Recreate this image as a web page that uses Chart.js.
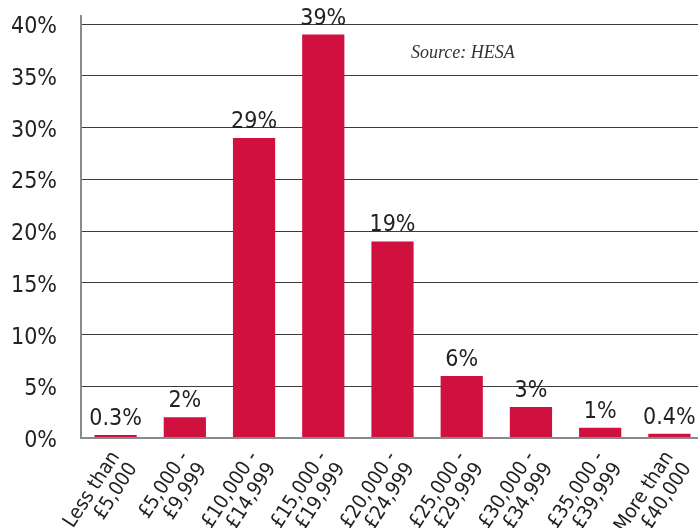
<!DOCTYPE html>
<html>
<head>
<meta charset="utf-8">
<script src="https://cdn.jsdelivr.net/npm/chart.js@4/dist/chart.umd.min.js"></script>
<style>
  html,body{margin:0;padding:0;background:#fff;overflow:hidden;}
  #wrap{width:698px;height:528px;overflow:hidden;}
  canvas{display:block;}
</style>
</head>
<body>
<div id="wrap"><canvas id="c" width="704" height="528"></canvas></div>
<script>
// income bands and share of graduates in each
const bands = [
  ['Less than', '£5,000'],
  ['£5,000 -', '£9,999'],
  ['£10,000 -', '£14,999'],
  ['£15,000 -', '£19,999'],
  ['£20,000 -', '£24,999'],
  ['£25,000 -', '£29,999'],
  ['£30,000 -', '£34,999'],
  ['£35,000 -', '£39,999'],
  ['More than', '£40,000']
];
const shares = [0.3, 2, 29, 39, 19, 6, 3, 1, 0.4];
const yTicks = [0, 5, 10, 15, 20, 25, 30, 35, 40];

const FONT = "'DejaVu Sans Condensed', 'DejaVu Sans', sans-serif";
const RED = '#d0103f';

// value labels over the bars + source note
const barLabels = {
  id: 'barLabels',
  afterDatasetsDraw(chart){
    const ctx = chart.ctx;
    const meta = chart.getDatasetMeta(0);
    ctx.save();
    ctx.font = '23px ' + FONT;
    ctx.fillStyle = '#222';
    ctx.textAlign = 'center';
    ctx.textBaseline = 'alphabetic';
    meta.data.forEach((bar, i) => {
      ctx.fillText(shares[i] + '%', bar.x, bar.y - 10);
    });
    ctx.font = "italic 18px 'Liberation Serif', serif";
    ctx.fillStyle = '#333';
    ctx.textAlign = 'left';
    ctx.fillText('Source: HESA', 411, 58);
    ctx.restore();
  }
};

new Chart(document.getElementById('c'), {
  type: 'bar',
  data: {
    labels: bands,
    datasets: [{
      data: shares,
      backgroundColor: RED,
      borderWidth: 0,
      categoryPercentage: 1,
      barPercentage: 0.61
    }]
  },
  options: {
    responsive: false,
    animation: false,
    devicePixelRatio: 1,
    layout: { padding: { top: 16, left: 0, right: 0, bottom: 0 } },
    plugins: { legend: { display: false }, tooltip: { enabled: false } },
    scales: {
      x: {
        grid: { display: false },
        border: { display: true, color: '#8a8a8a', width: 2 },
        ticks: {
          autoSkip: false,
          minRotation: 57,
          maxRotation: 57,
          padding: 2,
          color: '#222',
          font: { family: FONT, size: 20, lineHeight: 1.05 }
        },
        afterFit(scale){
          scale.height = 90;
          scale.paddingLeft = 0;
          scale.paddingRight = 0;
        }
      },
      y: {
        min: 0,
        max: 40.8,
        afterBuildTicks(scale){ scale.ticks = yTicks.map(v => ({ value: v })); },
        grid: {
          drawTicks: false,
          color: c => c.tick && c.tick.value === 0 ? '#8a8a8a' : '#3c3c3c',
          lineWidth: c => c.tick && c.tick.value === 0 ? 2 : 1
        },
        border: { display: true, color: '#8a8a8a', width: 2 },
        ticks: {
          padding: 24,
          labelOffset: 3,
          color: '#222',
          font: { family: FONT, size: 23 },
          callback: v => v + '%'
        },
        afterFit(scale){
          scale.width = 81;
          scale.paddingTop = 0;
          scale.paddingBottom = 0;
        }
      }
    }
  },
  plugins: [barLabels]
});
</script>
</body>
</html>
